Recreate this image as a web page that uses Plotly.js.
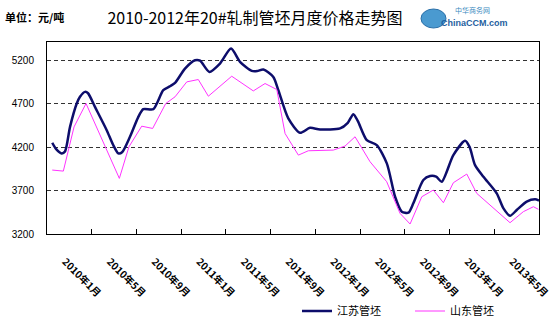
<!DOCTYPE html>
<html>
<head>
<meta charset="utf-8">
<script src="https://cdn.plot.ly/plotly-3.0.1.min.js"></script>
<style>html,body{margin:0;padding:0;background:#fff;}#chart{width:553px;height:322px;}</style>
</head>
<body>
<div id="chart"></div>
<script>
// x values are months counted from January 2010 (0 = start of 2010年1月)
const jiangsuX = [0.47,0.8,1.31,1.61,2.06,2.66,2.95,3.40,3.67,4.29,5.34,5.90,6.38,6.71,7.42,8.14,8.61,9.51,10.40,11.0,11.45,12.34,13.24,13.69,14.52,15.47,16.46,17.26,18.31,18.8,19.35,20.24,20.69,21.58,22.63,23.52,24.42,26.21,26.9,27.40,27.8,28.60,29.49,30.39,31.13,31.73,32.32,32.76,33.66,34.26,34.8,35.30,36.34,37.39,37.8,38.28,39.03,40.22,40.82,41.41,42.01,42.90,43.65,44.0];
const jiangsuY = [4250,4180,4128,4150,4433,4702,4780,4836,4820,4663,4395,4230,4128,4140,4319,4540,4637,4637,4855,4900,4939,5104,5200,5195,5066,5162,5334,5181,5077,5075,5093,5008,4855,4530,4365,4422,4403,4415,4480,4579,4500,4280,4223,4013,3629,3457,3445,3553,3821,3867,3860,3802,4108,4273,4200,3993,3859,3668,3495,3410,3476,3572,3599,3585];
const shandongX = [0.47,1.46,2.42,3.49,6.47,7.33,8.47,9.45,10.62,11.45,12.50,13.53,14.43,16.52,18.45,19.50,20.55,21.29,22.48,23.37,25.61,26.65,27.55,28.89,30.38,31.57,32.47,33.52,34.55,35.45,36.34,37.54,38.43,39.78,41.41,42.60,43.50,43.95];
const shandongY = [3936,3924,4433,4702,3840,4204,4441,4415,4702,4779,4951,4978,4786,5016,4847,4932,4863,4357,4108,4158,4166,4212,4319,4032,3802,3438,3315,3629,3706,3560,3790,3890,3668,3514,3330,3457,3514,3484];
const tickPositions = [0,4,8,12,16,20,24,28,32,36,40,44];
const tickLabels = ['2010年1月','2010年5月','2010年9月','2011年1月','2011年5月','2011年9月','2012年1月','2012年5月','2012年9月','2013年1月','2013年5月',''];
const seriesNames = ['江苏管坯','山东管坯'];
const yTicks = [3200,3700,4200,4700,5200];

const W = 553, H = 322, L = 47, R = 14, T = 42, B = 88;
const pw = W - L - R, ph = H - T - B;
const px = v => (v - L) / pw;
const py = v => (H - B - v) / ph;

const traces = [
  {x: jiangsuX, y: jiangsuY, name: seriesNames[0], type: 'scatter', mode: 'lines',
   line: {color: '#0d0d6b', width: 2.5, shape: 'spline', smoothing: 0.7}},
  {x: shandongX, y: shandongY, name: seriesNames[1], type: 'scatter', mode: 'lines',
   line: {color: '#ff33ff', width: 1}}
];

const layout = {
  width: W, height: H,
  margin: {l: L, r: R, t: T, b: B, pad: 0, autoexpand: false},
  paper_bgcolor: '#ffffff', plot_bgcolor: '#ffffff',
  showlegend: true,
  font: {family: '"Noto Sans CJK SC", "Liberation Sans", sans-serif', color: '#000'},
  title: {text: '2010-2012年20#轧制管坯月度价格走势图', font: {size: 16, color: '#000', family: '"Noto Sans CJK SC", sans-serif'},
          x: 255 / W, xref: 'container', xanchor: 'center', y: 1 - 18 / H, yref: 'container', yanchor: 'middle'},
  xaxis: {range: [0, 44], tickmode: 'array', tickvals: tickPositions, ticktext: tickLabels,
          ticks: 'inside', ticklen: 5, tickcolor: '#000', tickwidth: 1, automargin: false,
          showline: true, linecolor: '#000', linewidth: 1, mirror: true, showgrid: false, zeroline: false,
          tickangle: 45, ticklabelshift: 18, ticklabelstandoff: 17,
          tickfont: {size: 10, color: '#000', family: '"Noto Sans CJK SC", sans-serif', weight: 'bold'}},
  yaxis: {range: [3200, 5410], tickmode: 'array', tickvals: yTicks, ticks: '', automargin: false,
          showline: true, linecolor: '#000', linewidth: 1, mirror: true, zeroline: false,
          showgrid: true, gridcolor: '#333', griddash: '4px,3px', gridwidth: 1,
          ticklabelstandoff: 10,
          tickfont: {size: 10, color: '#000', family: '"Liberation Sans", Arial, sans-serif'}},
  legend: {orientation: 'h', x: px(297), xanchor: 'left', y: py(311), yanchor: 'middle',
           font: {size: 11, color: '#000'}, entrywidth: 68, entrywidthmode: 'pixels', itemwidth: 30,
           bgcolor: 'rgba(0,0,0,0)', tracegroupgap: 0},
  shapes: [
    {type: 'circle', xref: 'paper', yref: 'paper', x0: px(421), x1: px(446), y0: py(28), y1: py(9),
     fillcolor: '#4a9ad0', line: {color: '#2a6fa8', width: 1}}
  ],
  annotations: [
    {text: '单位：元/吨', xref: 'paper', yref: 'paper', x: px(3), y: py(17), xanchor: 'left', yanchor: 'middle',
     showarrow: false, font: {size: 11, color: '#000', weight: 'bold'}},
    {text: '中华商务网', xref: 'paper', yref: 'paper', x: px(472), y: py(10), xanchor: 'center', yanchor: 'middle',
     showarrow: false, font: {size: 7, color: '#3a8ac0'}},
    {text: 'ChinaCCM.com', xref: 'paper', yref: 'paper', x: px(474), y: py(23), xanchor: 'center', yanchor: 'middle',
     showarrow: false, font: {size: 9, color: '#1f5f9f', weight: 'bold', family: '"Liberation Sans", Arial, sans-serif'}}
  ]
};

Plotly.newPlot('chart', traces, layout, {staticPlot: true, displayModeBar: false});
</script>
</body>
</html>
